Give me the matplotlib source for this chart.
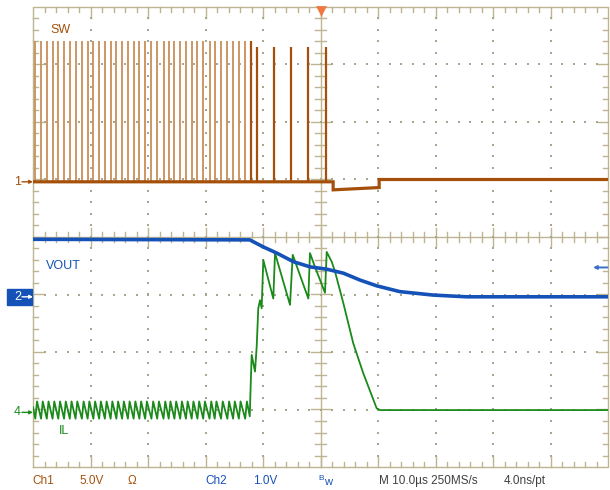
import numpy as np
import matplotlib
matplotlib.use("Agg")
import matplotlib.pyplot as plt

plt.rcParams['font.family'] = ['Liberation Sans', 'DejaVu Sans']

# ---- channel settings (position in div, volts per div) ----
ch1_pos, ch1_scale = 0.96, 5.0     # SW
ch2_pos, ch2_scale = -1.04, 1.0    # VOUT
ch4_pos = -3.05                    # IL (div)

# ---- SW: switching pulse times (us) and heights (V) ----
sw_t = [-49.6, -48.6, -47.6, -46.6, -45.6, -44.6, -43.6, -42.6, -41.5, -40.5,
        -39.5, -38.5, -37.5, -36.5, -35.5, -34.5, -33.5, -32.5, -31.5, -30.5,
        -29.4, -28.4, -27.3, -26.4, -25.4, -24.4, -23.4, -22.4, -21.4, -20.4,
        -19.3, -18.4, -17.3, -16.2, -15.2, -14.2, -13.1, -12.1, -11.1,
        -8.1, -5.1, -2.1, 1.0]
sw_h = [12.2] * 37 + [12.2, 11.7, 11.7, 11.7, 11.7, 11.7]
# SW baseline (us, V)
swb_t = [-50, 2.2, 2.2, 10.2, 10.2, 50]
swb_v = [0.0, 0.0, -0.7, -0.5, 0.2, 0.2]

# ---- VOUT (us, V above ch2 ref) ----
vout_t = [-50, -12.3, -10.0, -7.6, -4.7, -1.8, 1.1, 4.0, 6.9, 9.8, 13.8, 19.6, 25.4, 50]
vout_v = [1.0, 0.99, 0.87, 0.76, 0.61, 0.52, 0.48, 0.41, 0.29, 0.19, 0.09, 0.03, 0.0, 0.0]

# ---- IL ripple levels (div) and transient (us, div) ----
il_valley, il_peak = -3.16, -2.86
ilx_t = [-12.3, -12.15, -11.97, -11.39, -11.10, -10.82, -10.52, -10.23, -9.95,
         -8.21, -7.91, -5.30, -4.83, -2.12, -1.83, -0.96, 0.78, 1.08, 1.95,
         2.52, 3.97, 5.70, 7.44, 9.77, 10.35, 50]
ilx_v = [-3.12, -2.60, -2.05, -2.34, -1.91, -1.24, -1.10, -1.24, -0.40,
         -1.07, -0.28, -1.18, -0.31, -1.07, -0.28, -0.52, -0.97, -0.26, -0.43,
         -0.60, -1.15, -1.85, -2.37, -2.98, -3.01, -3.01]

C_SW, C_SW_LIGHT = '#a5500a', '#c98f58'
C_OUT = '#1552b8'
C_IL = '#1b8a1b'
C_GRID = '#bdb592'

W, H = 610, 490
fig = plt.figure(figsize=(W / 100, H / 100), dpi=100)
ax = fig.add_axes([33 / W, 23 / H, 575 / W, 460 / H])
ax.set_xlim(-50, 50)
ax.set_ylim(-4, 4)
ax.axis('off')

# ---- graticule ----
gkw = dict(color=C_GRID, lw=1.0, zorder=1, clip_on=False)
ax.plot([-50, 50, 50, -50, -50], [-4, -4, 4, 4, -4], **gkw)
ax.plot([-50, 50], [0, 0], **gkw)
ax.plot([0, 0], [-4, 4], **gkw)
for x in np.arange(-48, 49, 2):
    major = abs(x) % 10 == 0
    L = 0.19 if major else 0.08
    ax.plot([x, x], [4, 4 - L], **gkw)
    ax.plot([x, x], [-4, -4 + L], **gkw)
    c = 0.16 if major else 0.09
    ax.plot([x, x], [-c, c], **gkw)
for y in np.arange(-3.8, 3.81, 0.2):
    major = abs(round(y * 5)) % 5 == 0
    L = 1.9 if major else 0.8
    ax.plot([-50, -50 + L], [y, y], **gkw)
    ax.plot([50, 50 - L], [y, y], **gkw)
    c = 1.6 if major else 0.9
    ax.plot([-c, c], [y, y], **gkw)
dx, dy = [], []
for x in [-40, -30, -20, -10, 10, 20, 30, 40]:
    for y in np.arange(-3.8, 3.81, 0.2):
        dx.append(x); dy.append(y)
for y in [-3, -2, -1, 1, 2, 3]:
    for x in np.arange(-48, 49, 2):
        dx.append(x); dy.append(y)
ax.scatter(dx, dy, s=1.5, marker='s', color='#a9a68e', lw=0, zorder=1)

# ---- traces ----
# SW pulses
base = ch1_pos
tops = [ch1_pos + h / ch1_scale for h in sw_h]
ax.vlines(sw_t[:37], base, tops[:37], colors=C_SW_LIGHT, lw=1.3, zorder=3)
ax.vlines(sw_t[37:], base, tops[37:], colors=C_SW, lw=1.6, zorder=3)
ax.plot(swb_t, [ch1_pos + v / ch1_scale for v in swb_v], color=C_SW, lw=2.3,
        zorder=4, solid_joinstyle='miter')

# IL
il_t, il_v = [-50], [il_peak - 0.1]
for t in sw_t[:37]:
    il_t += [t, t + 0.3]
    il_v += [il_valley, il_peak]
il_t += ilx_t
il_v += ilx_v
ax.plot(il_t, il_v, color=C_IL, lw=1.3, zorder=5)

# VOUT
ax.plot(vout_t, [ch2_pos + v / ch2_scale for v in vout_v], color=C_OUT, lw=2.6, zorder=6)

# ---- in-screen labels ----
ax.text(-47, 3.6, 'SW', color=C_SW, fontsize=9, va='center', ha='left')
ax.text(-47.7, -0.5, 'VOUT', color=C_OUT, fontsize=9, va='center', ha='left')
ax.text(-45.5, -3.37, 'IL', color=C_IL, fontsize=9, va='center', ha='left')

# trigger marker and ch2 arrow
ax.scatter([0], [3.93], marker='v', s=60, color='#f07840', lw=0, zorder=8, clip_on=False)
ax.annotate('', xy=(47.4, -0.53), xytext=(49.9, -0.53),
            arrowprops=dict(arrowstyle='-|>', color='#3a70c8', lw=1.4, mutation_scale=5,
                            shrinkA=0, shrinkB=0))

# ---- channel reference markers (left) ----
def fx(px):
    return px / W

def fy(py):
    return 1 - py / H

def ypx(div):
    return 237 - div * 57.5

fig.text(fx(14), fy(ypx(ch1_pos)), '1', color=C_SW, fontsize=9, va='center')
fig.patches.append(plt.Rectangle((fx(7), fy(305)), fx(25), 16 / H, color=C_OUT,
                                 transform=fig.transFigure, figure=fig))
fig.text(fx(14), fy(ypx(ch2_pos)), '2', color='white', fontsize=9, va='center')
fig.text(fx(14), fy(ypx(ch4_pos)), '4', color=C_IL, fontsize=9, va='center')
for pos, col in [(ch1_pos, C_SW), (ch2_pos, 'white'), (ch4_pos, C_IL)]:
    y = fy(ypx(pos))
    fig.patches.append(matplotlib.patches.FancyArrowPatch(
        (fx(22), y), (fx(33), y), arrowstyle='-|>', mutation_scale=5, lw=1.0,
        shrinkA=0, shrinkB=0, color=col, transform=fig.transFigure, figure=fig))

# ---- status line ----
yt = fy(481)
fig.text(fx(32), yt, 'Ch1', color=C_SW, fontsize=8.5, va='center')
fig.text(fx(79), yt, '5.0V', color=C_SW, fontsize=8.5, va='center')
fig.text(fx(128), yt, 'Ω', color=C_SW, fontsize=8.5, va='center')
fig.text(fx(205), yt, 'Ch2', color=C_OUT, fontsize=8.5, va='center')
fig.text(fx(253), yt, '1.0V', color=C_OUT, fontsize=8.5, va='center')
fig.text(fx(318), fy(478), 'B', color=C_OUT, fontsize=6, va='center')
fig.text(fx(324), fy(482), 'w', color=C_OUT, fontsize=8, va='center')
fig.text(fx(379), yt, 'M 10.0µs 250MS/s', color='#404040', fontsize=8.5, va='center')
fig.text(fx(504), yt, '4.0ns/pt', color='#404040', fontsize=8.5, va='center')

fig.savefig('out.png', dpi=100, facecolor='white')
